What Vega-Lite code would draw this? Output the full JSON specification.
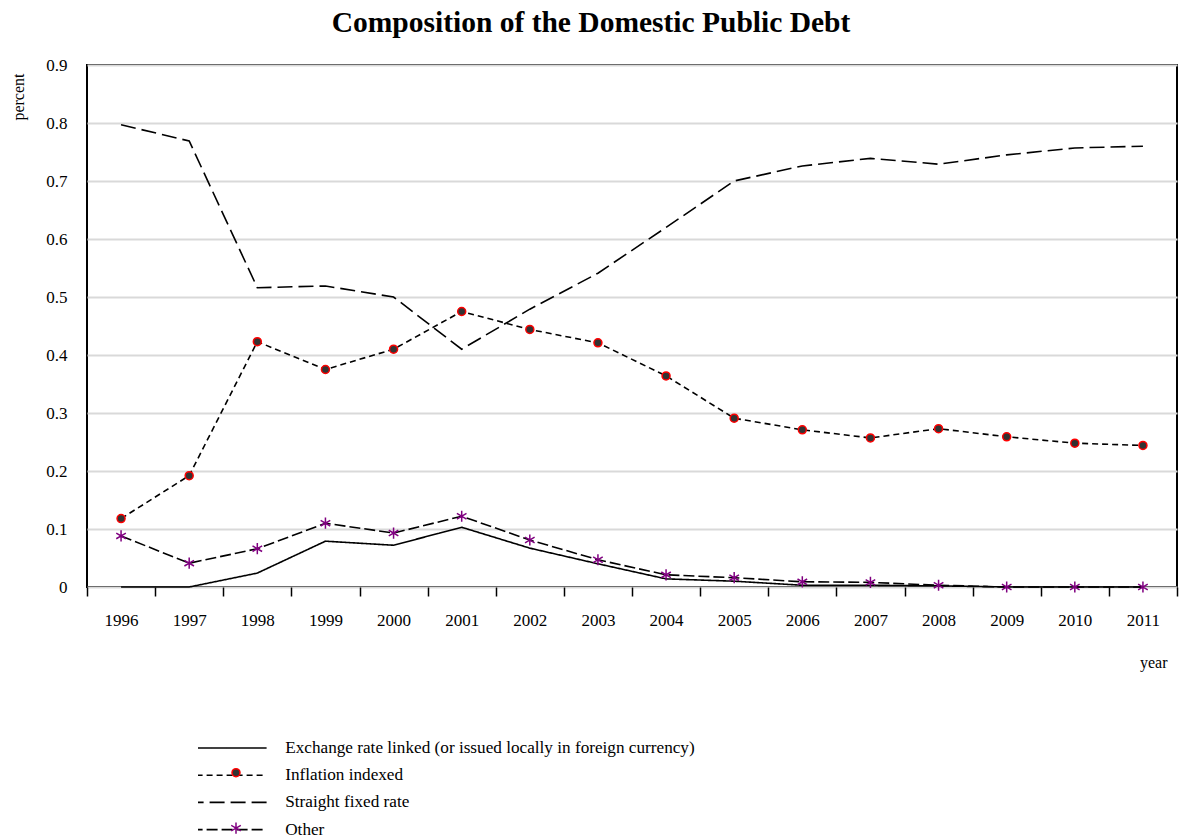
{
  "$schema": "https://vega.github.io/schema/vega-lite/v6.json",
  "autosize": {"type": "none"},
  "width": 1090,
  "height": 522,
  "padding": {"left": 87, "top": 65, "right": 2, "bottom": 251},
  "title": {
    "text": "Composition of the Domestic Public Debt",
    "font": "Liberation Serif",
    "fontSize": 29.5,
    "fontWeight": "bold",
    "color": "black",
    "anchor": "middle",
    "dx": -41,
    "offset": 18
  },
  "data": {
    "values": [
      {"year": 1996, "Exchange rate linked (or issued locally in foreign currency)": 0.000, "Inflation indexed": 0.118, "Straight fixed rate": 0.797, "Other": 0.088},
      {"year": 1997, "Exchange rate linked (or issued locally in foreign currency)": 0.000, "Inflation indexed": 0.192, "Straight fixed rate": 0.769, "Other": 0.041},
      {"year": 1998, "Exchange rate linked (or issued locally in foreign currency)": 0.024, "Inflation indexed": 0.423, "Straight fixed rate": 0.516, "Other": 0.066},
      {"year": 1999, "Exchange rate linked (or issued locally in foreign currency)": 0.079, "Inflation indexed": 0.375, "Straight fixed rate": 0.519, "Other": 0.110},
      {"year": 2000, "Exchange rate linked (or issued locally in foreign currency)": 0.072, "Inflation indexed": 0.410, "Straight fixed rate": 0.500, "Other": 0.093},
      {"year": 2001, "Exchange rate linked (or issued locally in foreign currency)": 0.103, "Inflation indexed": 0.475, "Straight fixed rate": 0.410, "Other": 0.122},
      {"year": 2002, "Exchange rate linked (or issued locally in foreign currency)": 0.067, "Inflation indexed": 0.444, "Straight fixed rate": 0.479, "Other": 0.081},
      {"year": 2003, "Exchange rate linked (or issued locally in foreign currency)": 0.040, "Inflation indexed": 0.421, "Straight fixed rate": 0.541, "Other": 0.047},
      {"year": 2004, "Exchange rate linked (or issued locally in foreign currency)": 0.014, "Inflation indexed": 0.364, "Straight fixed rate": 0.620, "Other": 0.021},
      {"year": 2005, "Exchange rate linked (or issued locally in foreign currency)": 0.010, "Inflation indexed": 0.291, "Straight fixed rate": 0.700, "Other": 0.016},
      {"year": 2006, "Exchange rate linked (or issued locally in foreign currency)": 0.003, "Inflation indexed": 0.271, "Straight fixed rate": 0.726, "Other": 0.009},
      {"year": 2007, "Exchange rate linked (or issued locally in foreign currency)": 0.003, "Inflation indexed": 0.257, "Straight fixed rate": 0.739, "Other": 0.008},
      {"year": 2008, "Exchange rate linked (or issued locally in foreign currency)": 0.002, "Inflation indexed": 0.273, "Straight fixed rate": 0.729, "Other": 0.003},
      {"year": 2009, "Exchange rate linked (or issued locally in foreign currency)": 0.000, "Inflation indexed": 0.259, "Straight fixed rate": 0.745, "Other": 0.000},
      {"year": 2010, "Exchange rate linked (or issued locally in foreign currency)": 0.000, "Inflation indexed": 0.248, "Straight fixed rate": 0.757, "Other": 0.000},
      {"year": 2011, "Exchange rate linked (or issued locally in foreign currency)": 0.000, "Inflation indexed": 0.244, "Straight fixed rate": 0.760, "Other": 0.000}
    ]
  },
  "encoding": {
    "x": {
      "field": "year",
      "type": "ordinal",
      "scale": {"paddingInner": 0, "paddingOuter": 0},
      "axis": {
        "title": "year",
        "titleFont": "Liberation Serif",
        "titleFontSize": 16,
        "titleFontWeight": "normal",
        "titleAnchor": "end",
        "titleAlign": "right",
        "titleX": 1080,
        "titlePadding": 26,
        "labelAngle": 0,
        "labelFont": "Liberation Serif",
        "labelFontSize": 17,
        "labelColor": "black",
        "labelPadding": 16,
        "tickBand": "extent",
        "tickSize": 9,
        "tickColor": "black",
        "tickWidth": 1.5,
        "domain": false,
        "grid": false
      }
    },
    "y": {
      "field": "value",
      "type": "quantitative",
      "scale": {"domain": [0, 0.9], "nice": false},
      "axis": {
        "title": "percent",
        "titleFont": "Liberation Serif",
        "titleFontSize": 16,
        "titleFontWeight": "normal",
        "titleAngle": -90,
        "titleAlign": "right",
        "titleBaseline": "middle",
        "titleX": -69,
        "titleY": 8,
        "values": [0, 0.1, 0.2, 0.3, 0.4, 0.5, 0.6, 0.7, 0.8, 0.9],
        "format": ".1~f",
        "labelFont": "Liberation Serif",
        "labelFontSize": 17,
        "labelColor": "black",
        "labelPadding": 20,
        "ticks": false,
        "domain": false,
        "grid": true,
        "gridColor": "#d9d9d9",
        "gridWidth": 2
      }
    }
  },
  "layer": [
    {
      "transform": [
        {"fold": ["Exchange rate linked (or issued locally in foreign currency)", "Inflation indexed", "Straight fixed rate", "Other"], "as": ["series", "value"]}
      ],
      "mark": {"type": "line", "color": "black", "strokeWidth": 1.6},
      "encoding": {
        "strokeDash": {
          "field": "series",
          "type": "nominal",
          "scale": {
            "domain": ["Exchange rate linked (or issued locally in foreign currency)", "Inflation indexed", "Straight fixed rate", "Other"],
            "range": [[1, 0], [6, 4], [15, 6], [11, 4]]
          },
          "legend": {
            "orient": "none",
            "legendX": 111,
            "legendY": 675,
            "title": null,
            "padding": 0,
            "symbolType": "M-15,0H15",
            "symbolSize": 64,
            "symbolStrokeColor": "black",
            "symbolFillColor": "transparent",
            "symbolStrokeWidth": 1.6,
            "labelOffset": 70,
            "labelFont": "Liberation Serif",
            "labelFontSize": 17.2,
            "labelColor": "black",
            "labelLimit": 700,
            "clipHeight": 16,
            "rowPadding": 9.2
          }
        }
      }
    },
    {
      "transform": [
        {"fold": ["Exchange rate linked (or issued locally in foreign currency)", "Inflation indexed", "Straight fixed rate", "Other"], "as": ["seriesM", "value"]}
      ],
      "mark": {"type": "point", "size": 64, "strokeWidth": 1.5, "opacity": 1},
      "encoding": {
        "shape": {
          "field": "seriesM",
          "type": "nominal",
          "scale": {
            "domain": ["Exchange rate linked (or issued locally in foreign currency)", "Inflation indexed", "Straight fixed rate", "Other", " "],
            "range": ["M0,0", "circle", "M0,0", "M0,-1.4V1.4M-1.2,-0.7L1.2,0.7M-1.2,0.7L1.2,-0.7", "M0,0"]
          },
          "legend": {
            "orient": "none",
            "legendX": 144,
            "legendY": 672,
            "title": null,
            "padding": 0,
            "symbolSize": 64,
            "symbolStrokeWidth": 1.5,
            "labelExpr": "''",
            "clipHeight": 16,
            "rowPadding": 11.7
          }
        },
        "fill": {
          "field": "seriesM",
          "type": "nominal",
          "scale": {
            "domain": ["Exchange rate linked (or issued locally in foreign currency)", "Inflation indexed", "Straight fixed rate", "Other", " "],
            "range": ["transparent", "#333333", "transparent", "transparent", "transparent"]
          },
          "legend": {
            "orient": "none",
            "legendX": 144,
            "legendY": 672,
            "title": null,
            "padding": 0,
            "symbolSize": 64,
            "symbolStrokeWidth": 1.5,
            "labelExpr": "''",
            "clipHeight": 16,
            "rowPadding": 11.7
          }
        },
        "stroke": {
          "field": "seriesM",
          "type": "nominal",
          "scale": {
            "domain": ["Exchange rate linked (or issued locally in foreign currency)", "Inflation indexed", "Straight fixed rate", "Other", " "],
            "range": ["transparent", "#ff0000", "transparent", "#800080", "transparent"]
          },
          "legend": {
            "orient": "none",
            "legendX": 144,
            "legendY": 672,
            "title": null,
            "padding": 0,
            "symbolSize": 64,
            "symbolStrokeWidth": 1.5,
            "labelExpr": "''",
            "clipHeight": 16,
            "rowPadding": 11.7
          }
        }
      }
    }
  ],
  "config": {
    "view": {"stroke": "black", "strokeWidth": 2},
    "font": "Liberation Serif"
  }
}
